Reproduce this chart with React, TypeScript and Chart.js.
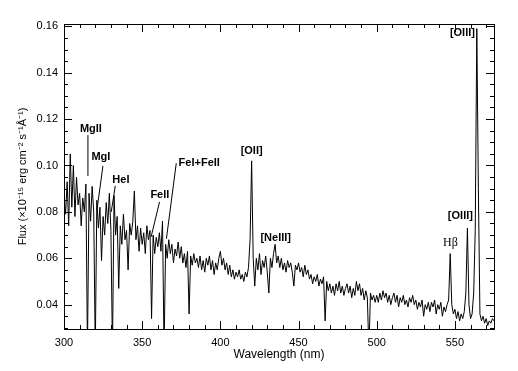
import React, { useEffect, useRef } from "react";
import { Chart, registerables } from "chart.js";

Chart.register(...registerables);

// Spectrum sampled every 1 nm from 300 nm
const WAVELENGTH_START = 300;
const WAVELENGTH_STEP = 1;
const flux = [
  // 300-309
  0.088, 0.079, 0.093, 0.074, 0.105, 0.082, 0.100, 0.078, 0.095, 0.083,
  // 310-319
  0.088, 0.074, 0.086, 0.080, 0.092, 0.020, 0.088, 0.076, 0.091, 0.080,
  // 320-329
  0.020, 0.085, 0.073, 0.082, 0.059, 0.078, 0.070, 0.084, 0.075, 0.088,
  // 330-339
  0.072, 0.020, 0.087, 0.070, 0.078, 0.047, 0.074, 0.066, 0.079, 0.068,
  // 340-349
  0.072, 0.055, 0.075, 0.070, 0.076, 0.089, 0.068, 0.074, 0.063, 0.073,
  // 350-359
  0.066, 0.071, 0.062, 0.074, 0.068, 0.072, 0.034, 0.070, 0.062, 0.069,
  // 360-369
  0.065, 0.071, 0.063, 0.076, 0.020, 0.066, 0.060, 0.068, 0.062, 0.066,
  // 370-379
  0.058, 0.064, 0.061, 0.067, 0.060, 0.065, 0.058, 0.062, 0.056, 0.063,
  // 380-389
  0.036, 0.061, 0.057, 0.062, 0.058, 0.060, 0.056, 0.061, 0.055, 0.059,
  // 390-399
  0.054, 0.060, 0.057, 0.061, 0.055, 0.059, 0.053, 0.058, 0.055, 0.060,
  // 400-409
  0.063, 0.057, 0.060, 0.055, 0.058, 0.053, 0.057, 0.052, 0.055, 0.051,
  // 410-419
  0.054, 0.052, 0.055, 0.051, 0.053, 0.050, 0.054, 0.052, 0.056, 0.068,
  // 420-429
  0.102, 0.060, 0.048, 0.060, 0.055, 0.062, 0.053, 0.059, 0.056, 0.061,
  // 430-439
  0.054, 0.045, 0.060, 0.056, 0.062, 0.066, 0.058, 0.061, 0.056, 0.060,
  // 440-449
  0.055, 0.058, 0.054, 0.059, 0.056, 0.058, 0.054, 0.048, 0.057, 0.055,
  // 450-459
  0.058, 0.054, 0.056, 0.052, 0.057, 0.053, 0.055, 0.051, 0.053, 0.049,
  // 460-469
  0.052, 0.050, 0.053, 0.048, 0.051, 0.049, 0.052, 0.033, 0.050, 0.046,
  // 470-479
  0.049, 0.045, 0.048, 0.044, 0.049, 0.046, 0.050, 0.045, 0.048, 0.044,
  // 480-489
  0.047, 0.049, 0.045, 0.048, 0.043, 0.047, 0.044, 0.050, 0.046, 0.049,
  // 490-499
  0.044, 0.047, 0.042, 0.046, 0.043, 0.020, 0.045, 0.042, 0.044, 0.041,
  // 500-509
  0.044, 0.041, 0.045, 0.042, 0.046, 0.043, 0.045, 0.041, 0.044, 0.040,
  // 510-519
  0.043, 0.045, 0.041, 0.044, 0.039, 0.043, 0.041, 0.044, 0.040, 0.042,
  // 520-529
  0.039, 0.043, 0.041, 0.044, 0.040, 0.042, 0.038, 0.041, 0.039, 0.042,
  // 530-539
  0.035, 0.040, 0.038, 0.041, 0.037, 0.041, 0.039, 0.042, 0.036, 0.040,
  // 540-549
  0.038, 0.041, 0.035, 0.039, 0.037, 0.040, 0.042, 0.062, 0.040, 0.036,
  // 550-559
  0.038, 0.034, 0.037, 0.033, 0.036, 0.034, 0.037, 0.045, 0.073, 0.040,
  // 560-569
  0.034, 0.036, 0.045, 0.072, 0.159, 0.090, 0.036, 0.033, 0.035, 0.032,
  // 570-575
  0.034, 0.031, 0.033, 0.032, 0.034, 0.033,
];
const wavelengths = flux.map((_, i) => WAVELENGTH_START + i * WAVELENGTH_STEP);

// Axis ranges and ticks
const X_MIN = 300;
const X_MAX = 575;
const Y_MIN = 0.0295;
const Y_MAX = 0.161;
const xMajorTicks = [300, 350, 400, 450, 500, 550];
const xMinorStep = 10;
const yMajorTicks = [0.04, 0.06, 0.08, 0.1, 0.12, 0.14, 0.16];
const yMinorStep = 0.005;

// Line identifications
const lineLabels = ["MgII", "MgI", "HeI", "FeII", "FeI+FeII", "[OII]", "[NeIII]", "Hβ", "[OIII]", "[OIII]"];
const labelWavelength = [317.2, 323.6, 336.4, 361.3, 386.5, 420.0, 435.4, 547.1, 553.5, 554.8];
const labelFlux = [0.1157, 0.1036, 0.0938, 0.0873, 0.1010, 0.1062, 0.0688, 0.0667, 0.0783, 0.1570];

// Pointer lines from labels to features
const pointerFromWavelength = [315.3, 324.9, 332.8, 361.1, 371.8];
const pointerFromFlux = [0.1131, 0.0998, 0.0912, 0.0843, 0.1010];
const pointerToWavelength = [315.3, 321.1, 330.2, 355.7, 365.5];
const pointerToFlux = [0.0955, 0.0809, 0.0800, 0.0692, 0.0684];

const SANS = "'Liberation Sans', Arial, Helvetica, sans-serif";
const SERIF = "'Liberation Serif', 'Times New Roman', serif";

const framePlugin = {
  id: "idlFrame",
  afterDatasetsDraw(chart: any) {
    const { ctx, chartArea, scales } = chart;
    const xs = scales.x;
    const ys = scales.y;
    const { left, right, top, bottom } = chartArea;
    ctx.save();
    ctx.strokeStyle = "#000";
    ctx.lineWidth = 1;
    // frame
    ctx.strokeRect(Math.round(left) + 0.5, Math.round(top) + 0.5, Math.round(right - left), Math.round(bottom - top));
    ctx.beginPath();
    // x ticks (bottom and top, inward)
    for (let v = X_MIN; v <= X_MAX + 1e-9; v += xMinorStep) {
      const px = Math.round(xs.getPixelForValue(v)) + 0.5;
      const major = xMajorTicks.includes(v);
      const len = major ? 8 : 4;
      ctx.moveTo(px, bottom);
      ctx.lineTo(px, bottom - len);
      ctx.moveTo(px, top);
      ctx.lineTo(px, top + len);
    }
    // y ticks (left and right, inward)
    for (let k = 0; ; k++) {
      const v = 0.03 + k * yMinorStep;
      if (v > Y_MAX + 1e-9) break;
      const major = yMajorTicks.some((t) => Math.abs(t - v) < 1e-6);
      const py = Math.round(ys.getPixelForValue(v)) + 0.5;
      const len = major ? 8 : 4;
      ctx.moveTo(left, py);
      ctx.lineTo(left + len, py);
      ctx.moveTo(right, py);
      ctx.lineTo(right - len, py);
    }
    ctx.stroke();

    // pointer lines
    ctx.beginPath();
    for (let i = 0; i < pointerFromWavelength.length; i++) {
      ctx.moveTo(xs.getPixelForValue(pointerFromWavelength[i]), ys.getPixelForValue(pointerFromFlux[i]));
      ctx.lineTo(xs.getPixelForValue(pointerToWavelength[i]), ys.getPixelForValue(pointerToFlux[i]));
    }
    ctx.stroke();

    // labels
    ctx.fillStyle = "#000";
    ctx.textAlign = "center";
    ctx.textBaseline = "middle";
    for (let i = 0; i < lineLabels.length; i++) {
      const txt = lineLabels[i];
      ctx.font = txt === "Hβ" ? `12px ${SERIF}` : `bold 11px ${SANS}`;
      ctx.fillText(txt, xs.getPixelForValue(labelWavelength[i]), ys.getPixelForValue(labelFlux[i]));
    }
    ctx.restore();
  },
};

export default function App() {
  const canvasRef = useRef<HTMLCanvasElement | null>(null);

  useEffect(() => {
    const canvas = canvasRef.current;
    if (!canvas) return;
    const chart = new Chart(canvas, {
      type: "line",
      data: {
        datasets: [
          {
            data: wavelengths.map((w, i) => ({ x: w, y: flux[i] })),
            borderColor: "#000",
            borderWidth: 1,
            pointRadius: 0,
            tension: 0,
            fill: false,
          },
        ],
      },
      options: {
        responsive: false,
        animation: false,
        events: [],
        layout: { padding: { top: 24, right: 24, left: 0, bottom: 0 } },
        plugins: { legend: { display: false }, tooltip: { enabled: false } },
        scales: {
          x: {
            type: "linear",
            min: X_MIN,
            max: X_MAX,
            grid: { display: false, drawTicks: false },
            border: { display: false },
            afterFit: (s: any) => {
              s.height = 42;
            },
            afterBuildTicks: (s: any) => {
              s.ticks = xMajorTicks.map((v) => ({ value: v }));
            },
            ticks: {
              color: "#000",
              font: { family: SANS, size: 11 },
              padding: 7,
              maxRotation: 0,
              autoSkip: false,
              callback: (v: any) => String(v),
            },
            title: {
              display: true,
              text: "Wavelength (nm)",
              color: "#000",
              font: { family: SANS, size: 12 },
              padding: { top: 0, bottom: 9 },
            },
          },
          y: {
            type: "linear",
            min: Y_MIN,
            max: Y_MAX,
            grid: { display: false, drawTicks: false },
            border: { display: false },
            afterFit: (s: any) => {
              s.width = 64;
            },
            afterBuildTicks: (s: any) => {
              s.ticks = yMajorTicks.map((v) => ({ value: v }));
            },
            ticks: {
              color: "#000",
              font: { family: SANS, size: 11 },
              padding: 6,
              autoSkip: false,
              callback: (v: any) => Number(v).toFixed(2),
            },
            title: {
              display: true,
              text: "Flux (×10⁻¹⁵ erg cm⁻² s⁻¹Å⁻¹)",
              color: "#000",
              font: { family: SANS, size: 11 },
              padding: { top: 16, bottom: 0 },
            },
          },
        },
      },
      plugins: [framePlugin],
    });
    return () => chart.destroy();
  }, []);

  return (
    <div style={{ position: "absolute", left: 0, top: 0, width: 518, height: 371, background: "#fff" }}>
      <canvas ref={canvasRef} width={518} height={371} style={{ width: 518, height: 371, display: "block" }} />
    </div>
  );
}
